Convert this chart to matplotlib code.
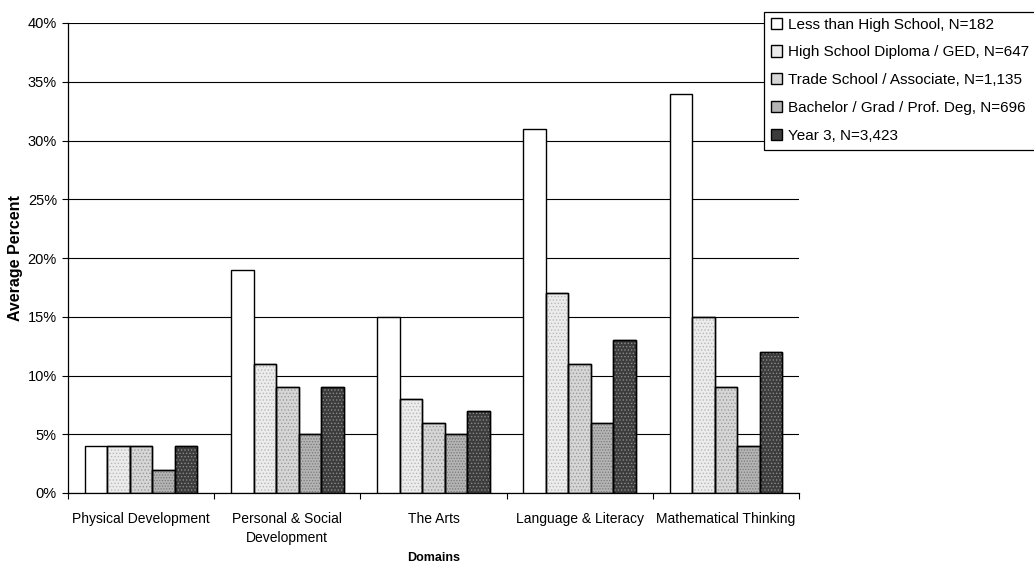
import matplotlib
matplotlib.use("Agg")
import matplotlib.pyplot as plt
import matplotlib.patches as mpatches
import numpy as np
from matplotlib.ticker import PercentFormatter

plt.rcParams['font.family'] = ['Liberation Sans', 'DejaVu Sans']
plt.rcParams['hatch.linewidth'] = 0.6

domains = ["Physical Development", "Personal & Social\nDevelopment", "The Arts",
           "Language & Literacy", "Mathematical Thinking"]
series_names = ["Less than High School, N=182",
                "High School Diploma / GED, N=647",
                "Trade School / Associate, N=1,135",
                "Bachelor / Grad / Prof. Deg, N=696",
                "Year 3, N=3,423"]
values = [
    [4, 19, 15, 31, 34],
    [4, 11, 8, 17, 15],
    [4, 9, 6, 11, 9],
    [2, 5, 5, 6, 4],
    [4, 9, 7, 13, 12],
]
y_ticks = [0, 5, 10, 15, 20, 25, 30, 35, 40]

face = ['#ffffff', '#ececec', '#d6d6d6', '#b4b4b4', '#3c3c3c']
hatch_col = ['#ffffff', '#b8b8b8', '#9a9a9a', '#7a7a7a', '#8a8a8a']
hatches = [None, '.....', '.....', '......', '.....']

W, H = 1034, 571
fig = plt.figure(figsize=(W / 100, H / 100), dpi=100)
ax = fig.add_axes([68 / W, 1 - 493 / H, 731 / W, 470 / H])

x = np.arange(len(domains))
n = len(series_names)
bw = 0.154
for i, (name, vals) in enumerate(zip(series_names, values)):
    pos = x - bw * (n - 1) / 2 + i * bw
    ax.bar(pos, vals, width=bw, facecolor=face[i], edgecolor='black',
           linewidth=1.0, label=name, zorder=3)
    if hatches[i]:
        ax.bar(pos, vals, width=bw, facecolor='none', edgecolor=hatch_col[i],
               linewidth=0, hatch=hatches[i], zorder=3.5)
        ax.bar(pos, vals, width=bw, facecolor='none', edgecolor='black',
               linewidth=1.0, zorder=3.6)

ax.set_xlim(-0.5, len(domains) - 0.5)
ax.set_ylim(0, 40)
ax.set_yticks(y_ticks)
ax.yaxis.set_major_formatter(PercentFormatter(decimals=0))
ax.yaxis.grid(True, color='black', linewidth=0.8, zorder=0)
ax.set_axisbelow(True)

ax.set_xticks(x)
ax.set_xticklabels(domains, fontsize=10, linespacing=1.45)
ax.set_xticks(np.arange(len(domains) + 1) - 0.5, minor=True)
ax.tick_params(axis='x', which='major', length=0, pad=14)
ax.tick_params(axis='x', which='minor', length=4, width=0.8, direction='out')
ax.tick_params(axis='y', length=4, width=0.8, labelsize=10.5, pad=4)

for s in ['top', 'right']:
    ax.spines[s].set_visible(False)
for s in ['left', 'bottom']:
    ax.spines[s].set_linewidth(0.9)

ax.set_ylabel("Average Percent", fontsize=11.5, fontweight='bold', labelpad=3)
ax.set_xlabel("Domains", fontsize=9, fontweight='bold', labelpad=5)

# legend entries without their own frame; a separate box carries the border
leg = ax.legend(loc='upper left', bbox_to_anchor=(766 / W, 1 - 13 / H),
                bbox_transform=fig.transFigure, fontsize=11, frameon=False,
                handlelength=0.75, handleheight=0.75, handletextpad=0.4,
                labelspacing=0.9, borderpad=0.3, borderaxespad=0)
leg.set_zorder(11)
box = mpatches.Rectangle((764 / W, 1 - 150 / H), 300 / W, 138 / H,
                         transform=fig.transFigure, facecolor='white',
                         edgecolor='black', linewidth=0.9, zorder=10,
                         clip_on=False)
fig.add_artist(box)
fig.add_artist(leg)

fig.savefig("out.png", dpi=100)
